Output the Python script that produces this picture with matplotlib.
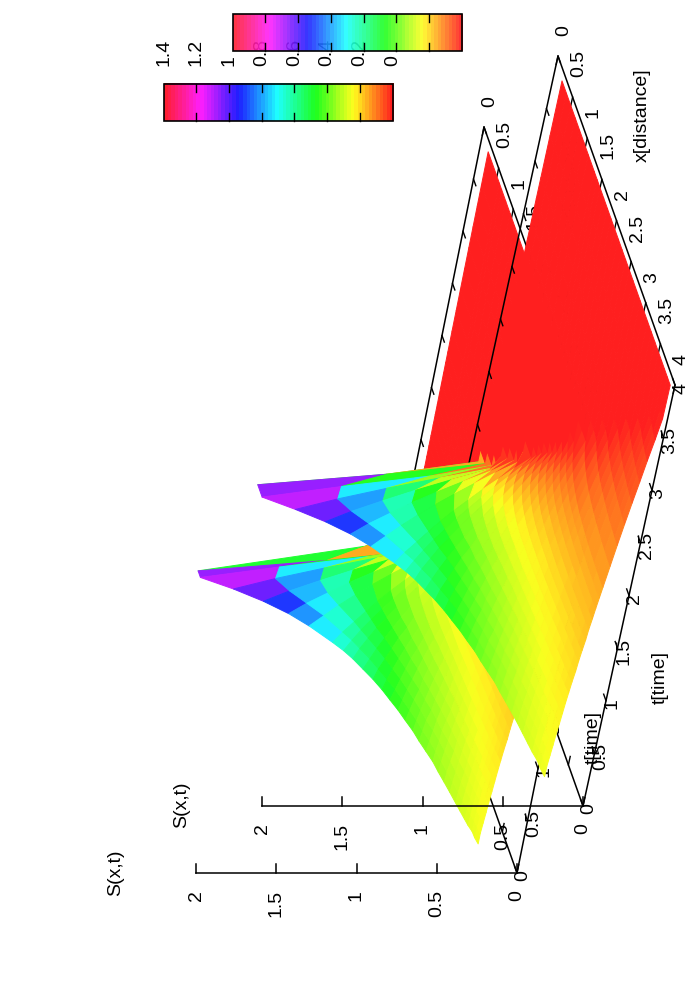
import numpy as np
import matplotlib
matplotlib.use('Agg')
import matplotlib.pyplot as plt
from matplotlib.collections import PolyCollection
from matplotlib.colors import ListedColormap
from matplotlib.patches import Rectangle

plt.rcParams['font.family'] = ['Liberation Sans', 'DejaVu Sans']

# values
t_vals = [0.2, 0.3, 0.4, 0.5, 0.6, 0.7, 0.8, 0.9, 1.0, 1.1, 1.2, 1.3, 1.4, 1.5, 1.6, 1.7, 1.8, 1.9, 2.0,
          2.2, 2.4, 2.6, 2.8, 3.0, 3.2, 3.4, 3.6, 3.92]
x_back = [0.2, 0.35, 0.5, 0.65, 0.8, 0.95, 1.1, 1.3, 1.4, 1.5, 1.625, 1.75, 1.875, 2.0, 2.125, 2.25, 2.375, 2.5,
          2.625, 2.75, 2.875, 3.0, 3.125, 3.25, 3.375, 3.5, 3.6, 3.7, 3.8, 3.9]
x_front = [0.2, 0.58, 0.66, 0.8, 0.95, 1.1, 1.25, 1.45, 1.55, 1.65, 1.775, 1.9, 2.025, 2.15, 2.275, 2.4, 2.525, 2.65,
           2.775, 2.9, 3.025, 3.15, 3.275, 3.4, 3.5, 3.6, 3.675, 3.75, 3.825, 3.9]
s_vals = [
    [0, 1.39, 1.39, 1.21, 1.05, .92, .82, .71, .66, .62, .58, .54, .507, .48, .452, .43, .406, .39, .37, .35, .339, .325, .312, .30, .29, .28, .272, .26, .258, .25],
    [0, .6, .91, .96, .90, .82, .74, .66, .62, .59, .55, .52, .488, .46, .437, .415, .395, .38, .36, .345, .332, .32, .307, .295, .285, .275, .268, .26, .255, .25],
    [0, 0, .37, .67, .72, .70, .66, .60, .576, .55, .519, .49, .465, .44, .42, .40, .382, .37, .35, .335, .324, .31, .30, .29, .28, .27, .264, .257, .25, .245],
    [0, 0, 0, .35, .53, .58, .57, .54, .525, .51, .483, .46, .44, .42, .40, .38, .368, .35, .34, .33, .315, .30, .293, .28, .273, .265, .259, .25, .246, .24],
    [0, 0, 0, .01, .32, .44, .475, .48, .47, .46, .445, .43, .413, .40, .381, .37, .353, .34, .327, .315, .305, .295, .285, .275, .266, .26, .253, .247, .241, .236],
    [0, 0, 0, 0, .095, .29, .37, .41, .413, .41, .405, .39, .384, .37, .36, .35, .337, .325, .314, .30, .294, .285, .276, .268, .26, .252, .247, .24, .236, .23],
    [0] * 5 + [.13, .26, .335, .351, .36, .361, .36, .353, .345, .338, .33, .319, .31, .301, .29, .283, .275, .267, .26, .252, .245, .24, .235, .23, .225],
    [0] * 6 + [.145, .26, .286, .30, .315, .32, .321, .32, .314, .305, .30, .29, .286, .28, .272, .265, .258, .25, .244, .238, .234, .229, .224, .22],
    [0] * 6 + [.02, .175, .218, .245, .267, .28, .287, .29, .289, .285, .281, .275, .271, .265, .26, .255, .248, .24, .236, .23, .227, .222, .218, .214],
    [0] * 7 + [.09, .146, .185, .218, .24, .252, .26, .262, .26, .261, .26, .255, .25, .247, .24, .237, .232, .227, .223, .219, .215, .211, .208],
    [0] * 8 + [.073, .125, .167, .196, .215, .228, .236, .24, .24, .24, .239, .237, .234, .23, .227, .223, .218, .214, .211, .208, .205, .20],
    [0] * 9 + [.06, .114, .152, .177, .195, .207, .215, .22, .222, .222, .222, .221, .218, .216, .212, .209, .206, .204, .20, .198, .195],
    [0] * 10 + [.06, .106, .139, .162, .178, .19, .197, .202, .205, .206, .207, .206, .204, .202, .20, .197, .195, .193, .191, .188],
    [0] * 11 + [.058, .099, .128, .149, .164, .175, .182, .187, .19, .192, .193, .193, .192, .19, .189, .187, .185, .184, .18],
    [0] * 11 + [.01, .058, .093, .118, .137, .152, .162, .169, .174, .177, .179, .18, .181, .18, .179, .178, .177, .176, .175],
    [0] * 12 + [.016, .056, .087, .11, .127, .141, .15, .157, .162, .166, .168, .169, .17, .17, .17, .169, .168, .167],
    [0] * 13 + [.02, .055, .082, .103, .118, .131, .14, .146, .152, .156, .158, .159, .16, .161, .161, .16, .16],
    [0] * 14 + [.024, .054, .078, .097, .111, .123, .131, .138, .143, .146, .149, .151, .152, .152, .153, .152],
    [0] * 15 + [.025, .053, .074, .091, .104, .115, .123, .129, .134, .138, .14, .142, .143, .144, .144],
    [0] * 17 + [.028, .05, .067, .082, .093, .102, .109, .115, .119, .123, .125, .127, .128],
    [0] * 18 + [.007, .029, .047, .062, .074, .083, .091, .098, .103, .106, .109, .112],
    [0] * 20 + [.011, .03, .044, .057, .067, .076, .082, .086, .091, .095],
    [0] * 22 + [.014, .03, .042, .053, .06, .067, .072, .077],
    [0] * 24 + [.017, .029, .038, .046, .053, .058],
    [0] * 25 + [.005, .016, .025, .033, .04],
    [0] * 27 + [.002, .012, .02],
    [0] * 29 + [.002],
    [0] * 30,
]
axis_ticks = [0, 0.5, 1, 1.5, 2, 2.5, 3, 3.5, 4]
axis_labels = ['0', '0.5', '1', '1.5', '2', '2.5', '3', '3.5', '4']
z_ticks = [0, 0.5, 1, 1.5, 2]
z_labels = ['0', '0.5', '1', '1.5', '2']
cb_ticks = [0, 0.2, 0.4, 0.6, 0.8, 1, 1.2, 1.4]
cb_labels = ['0', '0.2', '0.4', '0.6', '0.8', '1', '1.2', '1.4']
cb_max = 1.4

XV = np.array([29.25, 82.25])
ZSCALE = 160.5
FS = 14


def palette(v):
    rgb = np.array(plt.get_cmap('hsv')(np.clip(np.asarray(v) / cb_max, 0, 1)))[..., :3]
    return rgb * 0.88 + 0.12


fig = plt.figure(figsize=(7, 10), dpi=100)
ax = fig.add_axes([0, 0, 1, 1])
ax.set_xlim(0, 700)
ax.set_ylim(1000, 0)
ax.axis('off')


def draw_plot(origin, tv, x_vals, labels_pos, zo):
    origin = np.array(origin, dtype=float)
    tv = np.array(tv, dtype=float)

    def proj(x, t, z=0):
        p = origin + (x - 4) * XV + t * tv
        return p[0] - z * ZSCALE, p[1]

    # base box and z axis
    corners = [proj(4, 0), proj(4, 4), proj(0, 4), proj(0, 0), proj(4, 0)]
    ax.plot(*zip(*corners), color='k', lw=1.1, zorder=zo, solid_joinstyle='miter')
    ax.plot(*zip(proj(4, 0), proj(4, 0, 2)), color='k', lw=1.1, zorder=zo)
    for z, lab in zip(z_ticks, z_labels):
        zx, zy = proj(4, 0, z)
        ax.plot([zx, zx], [zy, zy - 9], color='k', lw=1.1, zorder=zo)
        ax.text(zx, zy + 17, lab, rotation=90, ha='center', va='top', fontsize=FS, zorder=zo)

    for v, lab in zip(axis_ticks, axis_labels):
        # t axis along the x=4 edge, and the back edge
        a = proj(4, v)
        b = proj(3.92, v)
        ax.plot([a[0], b[0]], [a[1], b[1]], color='k', lw=1, zorder=zo)
        a = proj(0, v)
        b = proj(0.08, v)
        ax.plot([a[0], b[0]], [a[1], b[1]], color='k', lw=1, zorder=zo)
        tx, ty = proj(4, v)
        ax.text(tx + 6, ty + 3, lab, rotation=90, ha='center', va='center', fontsize=FS, zorder=zo)
        # x axis along the t=4 edge, and the t=0 edge
        a = proj(v, 4)
        b = proj(v, 3.92)
        ax.plot([a[0], b[0]], [a[1], b[1]], color='k', lw=1, zorder=zo)
        a = proj(v, 0)
        b = proj(v, 0.08)
        ax.plot([a[0], b[0]], [a[1], b[1]], color='k', lw=1, zorder=zo)
        tx, ty = proj(v, 4)
        ax.text(tx + 6, ty - 20, lab, rotation=90, ha='center', va='bottom', fontsize=FS, zorder=zo)

    for pos, lab in zip(labels_pos, ['S(x,t)', 't[time]', 'x[distance]']):
        ax.text(pos[0], pos[1], lab, rotation=90, ha='center', va='center', fontsize=FS, zorder=zo)

    # facets back to front, colour is the mean of the four corners
    s = np.array(s_vals)
    polys, cols = [], []
    for i in range(len(t_vals) - 1):
        for j in range(len(x_vals) - 1):
            polys.append([proj(x_vals[j], t_vals[i], s[i, j]),
                          proj(x_vals[j + 1], t_vals[i], s[i, j + 1]),
                          proj(x_vals[j + 1], t_vals[i + 1], s[i + 1, j + 1]),
                          proj(x_vals[j], t_vals[i + 1], s[i + 1, j])])
            cols.append(palette(s[i:i + 2, j:j + 2].mean()))
    ax.add_collection(PolyCollection(polys, facecolors=cols, edgecolors='face', linewidths=0.7, zorder=zo + 0.5))


def draw_bar(x0, x1, y0, y1, zo, alpha=None):
    cmap = ListedColormap(palette(np.linspace(0, cb_max, 64)))
    grad = np.linspace(cb_max, 0, 64)[None, :]
    ax.imshow(grad, extent=(x0, x1, y1, y0), aspect='auto', cmap=cmap, vmin=0, vmax=cb_max,
              interpolation='nearest', zorder=zo, alpha=alpha)
    ax.add_patch(Rectangle((x0, y0), x1 - x0, y1 - y0, fill=False, ec='k', lw=1.2, zorder=zo + 0.1))
    for v in cb_ticks[1:-1]:
        px = x1 - (x1 - x0) * v / cb_max
        ax.plot([px, px], [y0, y0 + 8], color='k', lw=1, zorder=zo + 0.1)
        ax.plot([px, px], [y1, y1 - 8], color='k', lw=1, zorder=zo + 0.1)


# front-left plot goes first, the other one is drawn over it
draw_plot((517, 873), (21, -104.25), x_front, [(116, 873), (593, 737), (571, 185)], 1)
draw_bar(163.5, 392.7, 83.5, 121, 1)
for v, lab in zip(cb_ticks, cb_labels):
    ax.text(392.7 - 229.2 * v / cb_max, 66, lab, rotation=90, ha='center', va='bottom', fontsize=FS, zorder=1)

draw_plot((583, 806), (23, -105.25), x_back, [(182, 805), (660, 677), (642, 115)], 3)
draw_bar(232.7, 462, 14.3, 51, 3, alpha=0.9)

ax.set_xlim(0, 700)
ax.set_ylim(1000, 0)
fig.savefig('out.png', dpi=100)
